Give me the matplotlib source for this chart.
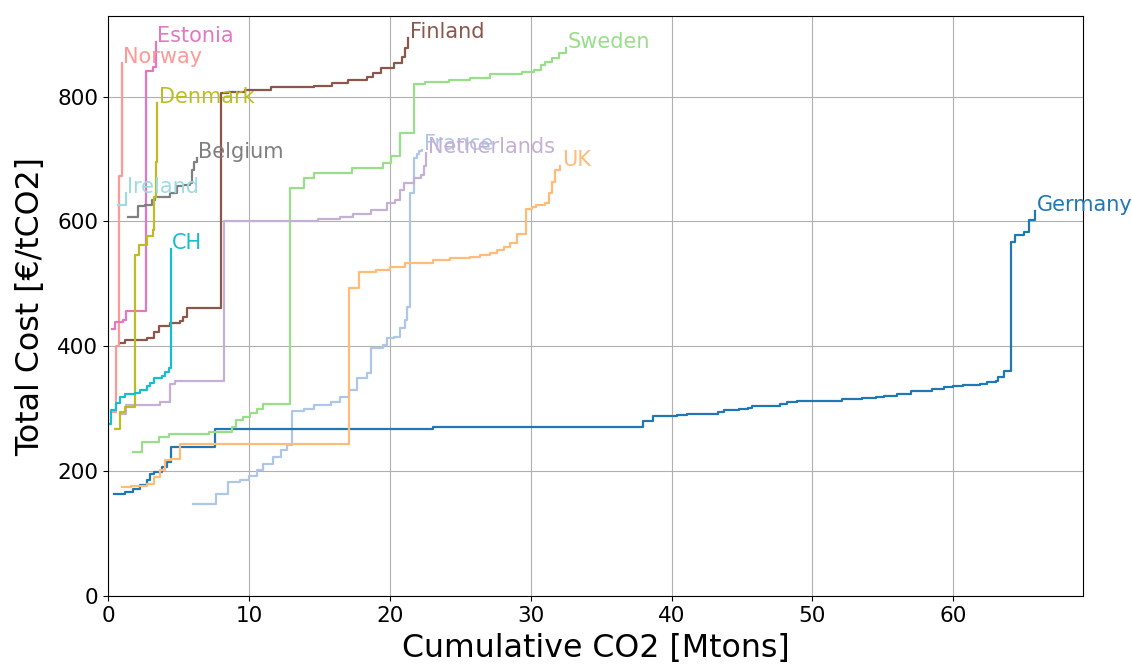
import matplotlib
matplotlib.use("Agg")
import matplotlib.pyplot as plt

# abatement cost curves: cumulative CO2 (Mtons) at each step, and total cost (EUR/tCO2)
countries = ["France", "Germany", "UK", "Sweden", "Norway", "Netherlands",
             "Finland", "Estonia", "Belgium", "Denmark", "CH", "Ireland"]

colors = {
    "Germany": "#1f77b4", "France": "#aec7e8", "UK": "#ffbb78", "Sweden": "#98df8a",
    "Norway": "#ff9896", "Netherlands": "#c5b0d5", "Finland": "#8c564b",
    "Estonia": "#e377c2", "Belgium": "#7f7f7f", "Denmark": "#bcbd22",
    "CH": "#17becf", "Ireland": "#9edae5",
}

germany_co2 = [0.43, 1.2, 1.8, 2.3, 2.75, 3.0, 3.3, 3.8, 4.2, 4.5, 7.6, 23.1, 38.0, 38.7,
               40.4, 41.1, 43.3, 43.7, 44.8, 45.4, 45.7, 46.5, 47.7, 48.2, 48.9, 51.2,
               52.1, 53.5, 54.5, 55.1, 56.0, 57.0, 57.9, 58.5, 59.3, 60.0, 60.7, 61.9,
               62.4, 63.0, 63.2, 63.6, 64.1, 64.4, 65.0, 65.4, 65.8]
germany_cost = [163, 166, 172, 178, 186, 195, 199, 207, 215, 239, 267, 270, 280, 288,
                290, 292, 294, 298, 300, 301, 304, 305, 308, 310, 312, 313,
                315, 317, 319, 321, 323, 328, 329, 331, 334, 336, 338, 340,
                343, 345, 350, 360, 567, 578, 583, 602, 617]

uk_co2 = [1.0, 1.6, 2.75, 3.3, 3.7, 4.05, 4.5, 5.1, 17.1, 17.8, 19.0, 20.0, 21.1, 23.1,
          24.3, 25.7, 26.4, 27.1, 27.6, 28.1, 28.55, 29.0, 29.7, 30.1, 30.4, 31.0,
          31.3, 31.5, 31.75, 32.1]
uk_cost = [174, 176, 180, 191, 202, 218, 220, 243, 493, 519, 522, 527, 533, 538,
           541, 543, 546, 550, 554, 559, 565, 580, 620, 623, 626, 630,
           645, 663, 682, 689]

france_co2 = [6.0, 7.7, 8.55, 9.4, 10.0, 10.6, 11.0, 11.7, 12.3, 12.7, 13.05, 13.9, 14.6,
              15.8, 16.5, 17.1, 17.7, 18.4, 18.7, 19.55, 19.8, 20.3, 20.7, 21.1, 21.25,
              21.45, 21.7, 21.9, 22.1, 22.3]
france_cost = [147, 164, 183, 186, 192, 202, 212, 223, 234, 242, 296, 300, 306,
               311, 319, 330, 349, 357, 398, 402, 413, 415, 429, 442, 463,
               646, 701, 708, 712, 715]

netherlands_co2 = [0.85, 1.3, 3.7, 4.4, 4.75, 8.2, 14.9, 16.5, 17.4, 18.7, 19.8, 20.4,
                   20.7, 21.0, 21.7, 22.2, 22.4, 22.6]
netherlands_cost = [291, 306, 310, 340, 345, 601, 604, 607, 612, 618, 630, 635,
                    650, 662, 669, 674, 688, 709]

sweden_co2 = [1.8, 2.4, 3.6, 4.3, 7.2, 8.8, 9.1, 9.6, 10.1, 10.6, 11.0, 12.9, 13.9, 14.6,
              17.3, 19.55, 20.1, 20.7, 21.7, 22.5, 24.2, 25.7, 27.1, 29.4, 30.2, 30.7,
              31.0, 31.5, 32.0, 32.5]
sweden_cost = [231, 247, 255, 259, 263, 271, 282, 287, 293, 300, 307, 653, 669, 678,
               685, 694, 705, 741, 820, 824, 826, 829, 836, 840, 843, 850,
               856, 861, 869, 877]

finland_co2 = [0.9, 1.2, 2.75, 3.3, 3.6, 4.4, 5.1, 5.35, 5.6, 8.0, 8.55, 9.7, 11.6, 14.6,
               15.9, 17.0, 18.4, 18.8, 19.4, 20.3, 20.85, 21.1, 21.3]
finland_cost = [406, 410, 414, 423, 432, 437, 441, 447, 462, 805, 808, 810, 815, 817,
                821, 826, 832, 838, 845, 853, 864, 877, 893]

estonia_co2 = [0.26, 0.5, 1.1, 1.3, 2.7, 3.2, 3.4]
estonia_cost = [427, 439, 442, 457, 841, 848, 888]

norway_co2 = [0.3, 0.55, 0.75, 0.97]
norway_cost = [295, 400, 672, 853]

denmark_co2 = [0.5, 0.85, 1.2, 1.9, 2.2, 2.75, 3.2, 3.25, 3.4, 3.5]
denmark_cost = [267, 295, 303, 546, 562, 576, 586, 639, 695, 789]

belgium_co2 = [1.45, 2.1, 2.6, 3.1, 3.35, 4.4, 4.9, 5.35, 5.8, 5.95, 6.1, 6.3]
belgium_cost = [607, 624, 626, 634, 639, 645, 656, 658, 662, 682, 695, 702]

ireland_co2 = [0.7, 1.28]
ireland_cost = [626, 646]

ch_co2 = [0.1, 0.2, 0.6, 0.85, 1.2, 1.9, 2.3, 2.75, 3.0, 3.3, 3.8, 4.05, 4.3, 4.45]
ch_cost = [275, 298, 309, 319, 323, 325, 330, 336, 341, 349, 352, 359, 365, 555]

curves = {
    "France": (france_co2, france_cost),
    "Germany": (germany_co2, germany_cost),
    "UK": (uk_co2, uk_cost),
    "Sweden": (sweden_co2, sweden_cost),
    "Norway": (norway_co2, norway_cost),
    "Netherlands": (netherlands_co2, netherlands_cost),
    "Finland": (finland_co2, finland_cost),
    "Estonia": (estonia_co2, estonia_cost),
    "Belgium": (belgium_co2, belgium_cost),
    "Denmark": (denmark_co2, denmark_cost),
    "CH": (ch_co2, ch_cost),
    "Ireland": (ireland_co2, ireland_cost),
}

fig = plt.figure(figsize=(11.32, 6.68), dpi=100)
ax = fig.add_axes([108 / 1132, 72 / 668, 975 / 1132, 580 / 668])

for name in countries:
    x, y = curves[name]
    ax.step(x, y, where="post", color=colors[name], linewidth=1.6)
    # country name at the end of its curve
    ax.text(x[-1] + 0.1, y[-1], name, color=colors[name], fontsize=15,
            ha="left", va="baseline")

ax.set_xlim(0, 69.2)
ax.set_ylim(0, 929)
ax.set_yticks([0, 200, 400, 600, 800])
ax.grid(True)
ax.tick_params(labelsize=15.5)
ax.set_xlabel("Cumulative CO2 [Mtons]", fontsize=22.8, labelpad=5)
ax.set_ylabel("Total Cost [€/tCO2]", fontsize=22.8, labelpad=8)

fig.savefig("out.png", dpi=100)
